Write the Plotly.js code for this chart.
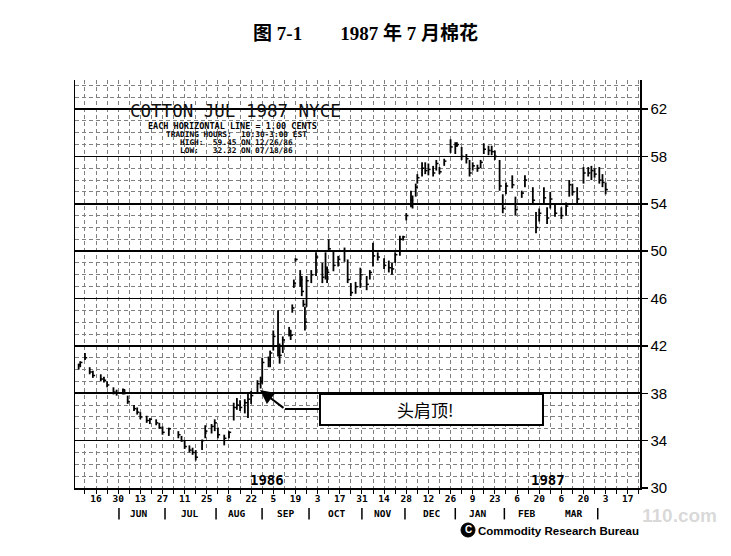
<!DOCTYPE html>
<html><head><meta charset="utf-8">
<script src="https://cdn.plot.ly/plotly-3.0.1.min.js"></script>
<style>body{margin:0;background:#fff}#chart{width:731px;height:556px}</style>
</head><body><div id="chart"></div>
<script>
// Daily bars (cents per pound)
const dates = ["1986-05-05","1986-05-06","1986-05-09","1986-05-12","1986-05-14","1986-05-19","1986-05-21","1986-05-23","1986-05-27","1986-05-29",
"1986-06-02","1986-06-03","1986-06-05","1986-06-09","1986-06-11","1986-06-13","1986-06-17","1986-06-19","1986-06-23","1986-06-25","1986-06-27",
"1986-07-01","1986-07-07","1986-07-09","1986-07-11","1986-07-14","1986-07-16","1986-07-18","1986-07-22","1986-07-24","1986-07-28","1986-07-30",
"1986-08-01","1986-08-05","1986-08-08","1986-08-11","1986-08-13","1986-08-15","1986-08-18","1986-08-20","1986-08-22","1986-08-26","1986-08-28","1986-08-29",
"1986-09-02","1986-09-03","1986-09-05","1986-09-08","1986-09-09","1986-09-11","1986-09-15","1986-09-16","1986-09-17","1986-09-18","1986-09-19",
"1986-09-22","1986-09-23","1986-09-24","1986-09-25","1986-09-26","1986-09-29",
"1986-10-02","1986-10-06","1986-10-08","1986-10-09","1986-10-10","1986-10-13","1986-10-16","1986-10-20","1986-10-22","1986-10-24","1986-10-27","1986-10-30",
"1986-11-03","1986-11-05","1986-11-07","1986-11-10","1986-11-14","1986-11-17","1986-11-19","1986-11-21","1986-11-24","1986-11-26","1986-11-28",
"1986-12-01","1986-12-02","1986-12-04","1986-12-05","1986-12-08","1986-12-10","1986-12-12","1986-12-15","1986-12-17","1986-12-19","1986-12-22","1986-12-26","1986-12-29","1986-12-30",
"1987-01-02","1987-01-05","1987-01-07","1987-01-09","1987-01-12","1987-01-14","1987-01-16","1987-01-19","1987-01-21","1987-01-23","1987-01-26","1987-01-28","1987-01-30",
"1987-02-03","1987-02-05","1987-02-09","1987-02-11","1987-02-16","1987-02-18","1987-02-20","1987-02-23","1987-02-25","1987-02-27",
"1987-03-02","1987-03-06","1987-03-09","1987-03-11","1987-03-13","1987-03-16","1987-03-20","1987-03-23","1987-03-25","1987-03-27","1987-03-30",
"1987-04-01","1987-04-03"];
const highs = [40.5,40.7,41.4,40.2,39.9,39.6,39.4,39.0,38.5,38.3,
38.4,38.3,37.8,37.0,36.8,36.4,36.1,35.9,35.8,35.5,35.2,
35.1,34.8,34.4,34.0,33.6,33.4,33.2,34.1,35.3,35.4,35.8,
35.1,34.5,34.8,37.2,37.6,37.4,37.5,38.0,38.2,39.1,39.4,41.0,
41.1,41.6,43.3,45.0,42.2,42.8,43.6,43.3,45.5,47.6,49.4,
48.4,47.9,45.9,45.3,47.9,48.4,
49.9,49.0,49.9,48.7,51.0,50.0,49.6,50.3,49.3,47.3,47.4,48.6,
47.9,48.4,50.7,49.9,49.4,49.2,49.0,49.9,51.3,51.3,53.2,
55.1,54.7,55.7,56.5,57.5,57.5,57.4,57.2,57.7,57.1,57.8,59.45,59.2,59.2,
58.8,58.2,57.7,57.5,57.3,57.7,59.1,58.9,58.9,58.5,57.7,54.8,55.8,
56.4,54.6,55.1,56.4,55.4,53.3,53.6,55.4,53.7,55.0,
54.0,53.7,54.1,56.0,55.7,55.4,57.1,57.1,57.2,57.0,57.1,
56.5,55.8];
const lows = [40.0,40.2,40.8,39.6,39.3,39.0,38.9,38.5,37.9,37.8,
37.9,37.9,37.1,36.5,36.2,35.8,35.5,35.4,35.3,35.0,34.5,
34.4,34.2,33.9,33.3,33.0,32.8,32.32,33.2,34.2,34.6,34.8,
34.2,33.6,34.2,35.7,36.6,36.5,36.3,35.9,37.1,38.0,38.4,38.8,
40.2,40.2,41.6,41.1,40.5,41.4,42.8,42.5,44.8,46.9,49.1,
47.0,46.2,45.3,43.3,45.3,47.3,
47.9,47.3,47.6,47.3,50.0,48.3,48.7,49.1,47.3,46.2,46.4,46.9,
46.7,47.6,48.7,49.2,48.5,48.2,48.0,49.0,49.6,50.9,52.6,
53.7,53.6,54.6,55.7,56.3,56.5,56.4,56.3,56.8,56.5,57.2,58.3,58.2,58.8,
57.7,57.4,56.3,56.8,56.7,57.0,58.2,58.1,58.1,57.7,55.1,53.2,54.8,
55.3,53.0,54.5,55.4,54.0,51.5,52.5,54.0,52.3,53.6,
52.9,52.7,53.0,54.6,54.7,54.0,55.7,56.3,56.0,56.2,55.7,
55.4,54.8];
const closes = [40.4,40.6,41.0,39.8,39.5,39.2,39.1,38.7,38.1,38.0,
38.3,38.0,37.3,36.7,36.4,36.0,35.7,35.8,35.5,35.1,34.7,
35.0,34.5,34.0,33.5,33.2,33.0,32.6,34.0,34.8,35.2,35.5,
34.5,34.2,34.7,36.8,37.0,36.8,37.2,37.5,37.8,38.8,39.0,40.6,
40.8,41.4,42.8,42.0,41.2,42.5,43.3,42.9,45.2,47.3,49.3,
47.6,46.6,45.5,44.0,47.5,48.0,
49.5,47.8,48.5,48.2,50.2,48.8,49.3,50.0,47.6,46.5,47.0,48.0,
47.2,48.2,49.6,49.5,48.8,48.6,48.5,49.7,51.0,51.2,53.0,
54.3,54.0,55.4,56.2,57.0,56.8,56.9,56.6,57.4,56.7,57.6,58.8,58.9,59.0,
58.0,57.8,56.6,57.2,57.0,57.5,58.6,58.5,58.4,58.0,55.5,53.6,55.5,
55.6,53.5,54.9,56.0,54.3,52.0,53.2,54.5,52.8,54.4,
53.2,53.0,53.8,55.6,55.0,54.4,56.6,56.6,56.8,56.5,56.0,
55.8,55.2];

const monthLabels = ["JUN","JUL","AUG","SEP","OCT","NOV","DEC","JAN","FEB","MAR"];
const monthCenters = ["1986-06-12","1986-07-14","1986-08-13","1986-09-13","1986-10-15","1986-11-13","1986-12-14","1987-01-12","1987-02-12","1987-03-14"];
const monthSeparators = ["1986-05-30 12:00","1986-06-28 14:00","1986-07-30 20:00","1986-08-28 22:00","1986-09-27 14:00","1986-10-31","1986-11-27 05:00","1986-12-29","1987-01-29","1987-03-29"];
const yearLabels = ["1986","1987"];
const yearPositions = ["1986-09-01","1987-02-25 12:00"];

const DAY = 86400000;
function shift(d, days){
  const t = new Date(d.replace(' ','T') + (d.length===10?'T00:00:00Z':'Z'));
  return new Date(t.getTime()+days*DAY).toISOString().slice(0,19).replace('T',' ');
}
const bx=[], by=[], cx=[], cy=[];
for (let i=0;i<dates.length;i++){
  bx.push(dates[i], dates[i], null); by.push(highs[i], lows[i], null);
  cx.push(dates[i], shift(dates[i],1.4), null); cy.push(closes[i], closes[i], null);
}
const traces = [
  {type:'scatter', mode:'lines', x:bx, y:by, line:{color:'#000', width:1.8}, hoverinfo:'skip', showlegend:false, connectgaps:false},
  {type:'scatter', mode:'lines', x:cx, y:cy, line:{color:'#000', width:1.5}, hoverinfo:'skip', showlegend:false, connectgaps:false}
];

const mono = 'DejaVu Sans Mono, Liberation Mono, monospace';
const ann = [];
function pa(text, x, y, size, opts){
  ann.push(Object.assign({text:text, xref:'paper', yref:'paper', x:x, y:y, showarrow:false,
    xanchor:'center', yanchor:'middle', font:{family:mono, size:size, color:'#000', weight:'bold'}}, opts||{}));
}
// header inside chart
pa('COTTON JUL 1987 NYCE', 0.2832, 0.9228, 17.5, {font:{family:mono,size:17.5,color:'#111'}});
pa('EACH HORIZONTAL LINE = 1.00 CENTS', 0.2796, 0.8873, 8.5);
pa('TRADING HOURS:  10:30-3:00 EST', 0.2858, 0.8676, 7.8);
pa('HIGH:  59.45 ON 12/26/86', 0.2867, 0.8480, 7.8);
pa('LOW:   32.32 ON 07/18/86', 0.2867, 0.8284, 7.8);
// year labels
for (let i=0;i<yearLabels.length;i++){
  ann.push({text:yearLabels[i], xref:'x', yref:'paper', x:yearPositions[i], y:0.0196, showarrow:false,
    xanchor:'center', yanchor:'middle', font:{family:mono, size:14, color:'#000', weight:'bold'}});
}
// month labels
for (let i=0;i<monthLabels.length;i++){
  ann.push({text:monthLabels[i], xref:'x', yref:'paper', x:monthCenters[i], y:-0.063, showarrow:false,
    xanchor:'center', yanchor:'middle', font:{family:mono, size:9.5, color:'#000', weight:'bold'}});
}
// head and shoulders callout
ann.push({text:'头肩顶!', xref:'paper', yref:'paper', x:0.6195, y:0.1936, showarrow:false,
  xanchor:'center', yanchor:'middle', font:{family:'Noto Sans CJK SC', size:17, color:'#000'}});
ann.push({text:'', xref:'paper', yref:'paper', x:0.3274, y:0.2402, ax:25, ay:19, showarrow:true,
  arrowhead:2, arrowsize:1.4, arrowwidth:2, arrowcolor:'#000', standoff:0});
// watermark
ann.push({text:'110.com', xref:'paper', yref:'paper', x:1.0, y:-0.067, showarrow:false, xanchor:'left', yanchor:'middle',
  font:{family:'Liberation Sans', size:19, color:'rgba(170,170,170,0.45)', weight:'bold'}});
// CRB logo
ann.push({text:'C', xref:'paper', yref:'paper', x:0.6956, y:-0.1029, showarrow:false, xanchor:'center', yanchor:'middle',
  font:{family:'Liberation Sans', size:10, color:'#fff', weight:'bold'}});
ann.push({text:'Commodity Research Bureau', xref:'paper', yref:'paper', x:0.8549, y:-0.1054, showarrow:false, xanchor:'center', yanchor:'middle',
  font:{family:'Liberation Sans', size:11.5, color:'#000', weight:'bold'}});

const shapes = [
  {type:'rect', xref:'paper', yref:'paper', x0:0.4336, x1:0.8283, y0:0.1544, y1:0.2304, line:{color:'#000', width:2}, fillcolor:'#fff', layer:'above'},
  {type:'line', xref:'paper', yref:'paper', x0:0.3717, x1:0.4336, y0:0.1936, y1:0.1936, line:{color:'#000', width:2}},
  {type:'circle', xref:'paper', yref:'paper', x0:0.6832, x1:0.7080, y0:-0.1201, y1:-0.0858, line:{color:'#000', width:1}, fillcolor:'#000'}
];
for (let i=0;i<monthSeparators.length;i++){
  shapes.push({type:'line', xref:'x', yref:'paper', x0:monthSeparators[i], x1:monthSeparators[i], y0:-0.049, y1:-0.077, line:{color:'#000', width:1.5}});
}

const layout = {
  width:731, height:556,
  margin:{l:75, r:91, t:80, b:68},
  paper_bgcolor:'#fff', plot_bgcolor:'#fff',
  showlegend:false,
  title:{text:'<b>图 7-1　　1987 年 7 月棉花</b>', x:0.5, xanchor:'center', y:0.9406, yanchor:'middle',
    font:{family:'Liberation Serif, Noto Sans CJK SC', size:19, color:'#000'}},
  xaxis:{type:'date', range:['1986-05-02 17:00','1987-04-24 17:00'],
    tick0:'1986-05-16', dtick:14*DAY, tickformat:'%-d',
    ticks:'outside', ticklen:4, tickcolor:'#000', tickwidth:1, ticklabelstandoff:-3,
    showgrid:true, gridcolor:'#808080', gridwidth:1, griddash:'4px,3px',
    minor:{tick0:'1986-05-16', dtick:7*DAY, showgrid:true, gridcolor:'#808080', gridwidth:1, griddash:'4px,3px', ticks:'outside', ticklen:4, tickcolor:'#000'},
    showline:true, linecolor:'#000', linewidth:2, zeroline:false,
    tickfont:{family:mono, size:9.5, color:'#000', weight:'bold'}, fixedrange:true},
  yaxis:{side:'right', range:[30,64.45], tick0:30, dtick:4,
    ticks:'outside', ticklen:6, tickwidth:1.5, tickcolor:'#000',
    showgrid:true, gridcolor:'#000', gridwidth:1.6,
    minor:{dtick:1, showgrid:true, gridcolor:'#808080', gridwidth:1, griddash:'4px,3px'},
    showline:true, mirror:true, linecolor:'#000', linewidth:1.5, zeroline:false,
    tickfont:{family:'Liberation Sans', size:15, color:'#000'}, fixedrange:true},
  annotations:ann, shapes:shapes
};
Plotly.newPlot('chart', traces, layout, {staticPlot:true, displayModeBar:false});
</script></body></html>
